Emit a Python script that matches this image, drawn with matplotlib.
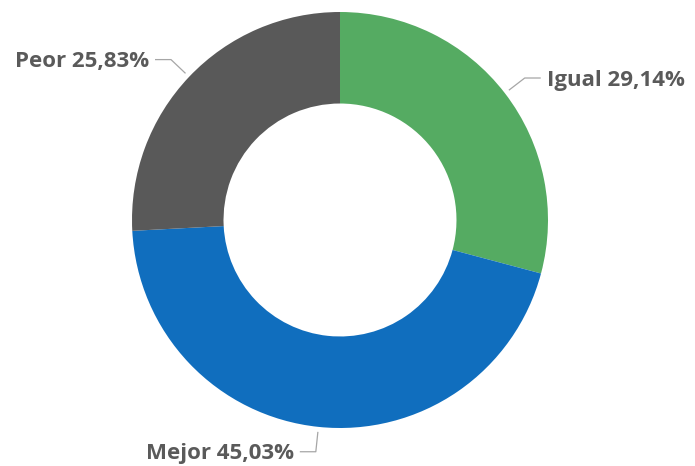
import numpy as np
import matplotlib.pyplot as plt

# ------------------------
# Data
# ------------------------
labels = ["Igual", "Mejor", "Peor"]
values = [29.14, 45.03, 25.83]
colors = ["#55AB62", "#106EBE", "#595959"]

W, H = 695, 466
cx, cy = 340, H - 220
R = 208
ring = 0.44 * R

fig = plt.figure(figsize=(W / 100, H / 100), dpi=100)
ax = fig.add_axes([0, 0, 1, 1])
ax.set_xlim(0, W)
ax.set_ylim(0, H)
ax.set_aspect("equal")
ax.axis("off")

wedges, _ = ax.pie(values, colors=colors, startangle=90, counterclock=False,
                   radius=R, center=(cx, cy),
                   wedgeprops=dict(width=ring, linewidth=0))
ax.set_xlim(0, W)
ax.set_ylim(0, H)

# ------------------------
# Leader lines + labels
# ------------------------
line_col = "#A6A6A6"
text_col = "#5A5A5A"
for w, lab, v in zip(wedges, labels, values):
    ang = np.deg2rad((w.theta1 + w.theta2) / 2)
    x0, y0 = cx + (R + 5) * np.cos(ang), cy + (R + 5) * np.sin(ang)
    x1, y1 = cx + (R + 25) * np.cos(ang), cy + (R + 25) * np.sin(ang)
    side = 1 if np.cos(ang) >= 0 else -1
    x2 = x1 + side * 16
    ax.plot([x0, x1, x2], [y0, y1, y1], color=line_col, lw=0.9,
            solid_capstyle="butt")
    txt = f"{lab} {v:.2f}%".replace(".", ",")
    ax.text(x2 + side * 6, y1 - 2, txt, ha="left" if side > 0 else "right",
            va="center", fontsize=16, fontweight="bold",
            family=["Open Sans", "DejaVu Sans"], color=text_col)

fig.savefig("out.png", dpi=100)
